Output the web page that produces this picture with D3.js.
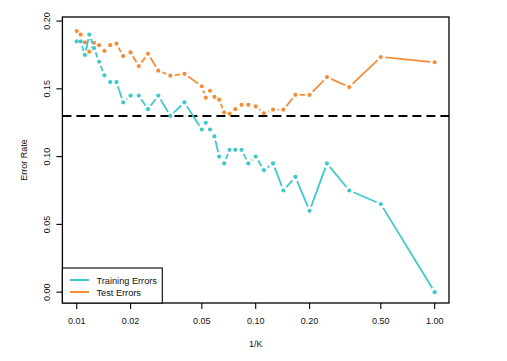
<!DOCTYPE html>
<html>
<head>
<meta charset="utf-8">
<script src="https://cdn.jsdelivr.net/npm/d3@7"></script>
<style>
body{margin:0;background:#fff;}
text{font-family:"Liberation Sans",Arial,sans-serif;fill:#111;}
</style>
</head>
<body>
<svg id="chart" width="507" height="361"></svg>
<script>
// K values used, plotted at 1/K
const kValues=[100,95,90,85,80,75,70,65,60,55,50,45,40,35,30,25,20,19,18,17,16,15,14,13,12,11,10,9,8,7,6,5,4,3,2,1];
const trainErrors=[0.185,0.185,0.175,0.19,0.18,0.17,0.16,0.155,0.155,0.14,0.145,0.145,0.135,0.145,0.13,0.14,0.12,0.125,0.12,0.115,0.10,0.095,0.105,0.105,0.105,0.095,0.10,0.09,0.095,0.075,0.085,0.06,0.095,0.075,0.065,0.0];
const testErrors=[0.1926,0.190,0.1843,0.1774,0.184,0.1822,0.178,0.1822,0.1833,0.1742,0.1769,0.1668,0.1759,0.1634,0.1597,0.1611,0.1519,0.1435,0.1486,0.1441,0.142,0.1327,0.1317,0.135,0.1382,0.1382,0.137,0.132,0.1346,0.1346,0.1456,0.1455,0.1587,0.1513,0.1735,0.1696];
const bayesError=0.130;
const xTicks=[0.01,0.02,0.05,0.10,0.20,0.50,1.00];
const yTicks=[0.00,0.05,0.10,0.15,0.20];
const seriesNames=["Training Errors","Test Errors"];

const teal="#40c9cc";
const orange="#f58d38";

const plotLeft=62.4,plotRight=449,plotTop=17,plotBottom=303;
const svg=d3.select('#chart');

const x=d3.scaleLog().domain([Math.pow(10,-2.08),Math.pow(10,0.08)]).range([plotLeft,plotRight]);
const y=d3.scaleLinear().domain([-0.008,0.203]).range([plotBottom,plotTop]);

// bayes error dashed line
svg.append('line')
.attr('x1',plotLeft).attr('x2',plotRight)
.attr('y1',y(bayesError)).attr('y2',y(bayesError))
.attr('stroke','#000').attr('stroke-width',2).attr('stroke-dasharray','9,5');

// type="b" style: segments with a gap round each point
function drawSeries(values,color){
  const pts=kValues.map((k,i)=>[x(1/k),y(values[i])]);
  const gap=4.5;
  const segs=[];
  for(let i=0;i<pts.length-1;i++){
    const p=pts[i],q=pts[i+1];
    const dx=q[0]-p[0],dy=q[1]-p[1];
    const d=Math.sqrt(dx*dx+dy*dy);
    if(d>2*gap){
      const ux=dx/d,uy=dy/d;
      segs.push([p[0]+ux*gap,p[1]+uy*gap,q[0]-ux*gap,q[1]-uy*gap]);
    }
  }
  const g=svg.append('g');
  g.selectAll('line').data(segs).join('line')
  .attr('x1',s=>s[0]).attr('y1',s=>s[1]).attr('x2',s=>s[2]).attr('y2',s=>s[3])
  .attr('stroke',color).attr('stroke-width',1.8);
  g.selectAll('circle').data(pts).join('circle')
  .attr('cx',p=>p[0]).attr('cy',p=>p[1]).attr('r',2.1)
  .attr('fill',color);
}
drawSeries(testErrors,orange);
drawSeries(trainErrors,teal);

// box
svg.append('rect').attr('x',plotLeft).attr('y',plotTop).attr('width',plotRight-plotLeft).attr('height',plotBottom-plotTop)
.attr('fill','none').attr('stroke','#000').attr('stroke-width',1.3);

// x axis
const xAxis=svg.append('g');
xAxis.selectAll('line').data(xTicks).join('line')
.attr('x1',d=>x(d)).attr('x2',d=>x(d)).attr('y1',plotBottom).attr('y2',plotBottom+6)
.attr('stroke','#000').attr('stroke-width',1.1);
xAxis.selectAll('text').data(xTicks).join('text')
.attr('x',d=>x(d)).attr('y',323.5).attr('text-anchor','middle').attr('font-size',9)
.text(d=>d3.format('.2f')(d));
svg.append('text').attr('x',(plotLeft+plotRight)/2).attr('y',347).attr('text-anchor','middle')
.attr('font-size',9).text('1/K');

// y axis
const yAxis=svg.append('g');
yAxis.selectAll('line').data(yTicks).join('line')
.attr('x1',plotLeft-6).attr('x2',plotLeft).attr('y1',d=>y(d)).attr('y2',d=>y(d))
.attr('stroke','#000').attr('stroke-width',1.1);
yAxis.selectAll('text').data(yTicks).join('text')
.attr('transform',d=>'translate(49.5,'+y(d)+') rotate(-90)')
.attr('text-anchor','middle').attr('font-size',9)
.text(d=>d3.format('.2f')(d));
svg.append('text').attr('transform','translate(26.5,'+((plotTop+plotBottom)/2)+') rotate(-90)')
.attr('text-anchor','middle').attr('font-size',9).text('Error Rate');

// legend
const legend=svg.append('g');
legend.append('rect').attr('x',plotLeft).attr('y',268).attr('width',162.3-plotLeft).attr('height',plotBottom-268)
.attr('fill','#fff').attr('stroke','#000').attr('stroke-width',1.1);
const legendColors=[teal,orange];
legend.selectAll('line').data(seriesNames).join('line')
.attr('x1',70).attr('x2',89).attr('y1',(d,i)=>280+i*12).attr('y2',(d,i)=>280+i*12)
.attr('stroke',(d,i)=>legendColors[i]).attr('stroke-width',2);
legend.selectAll('text').data(seriesNames).join('text')
.attr('x',96.5).attr('y',(d,i)=>283.5+i*12).attr('font-size',9.2)
.text(d=>d);
</script>
</body>
</html>
